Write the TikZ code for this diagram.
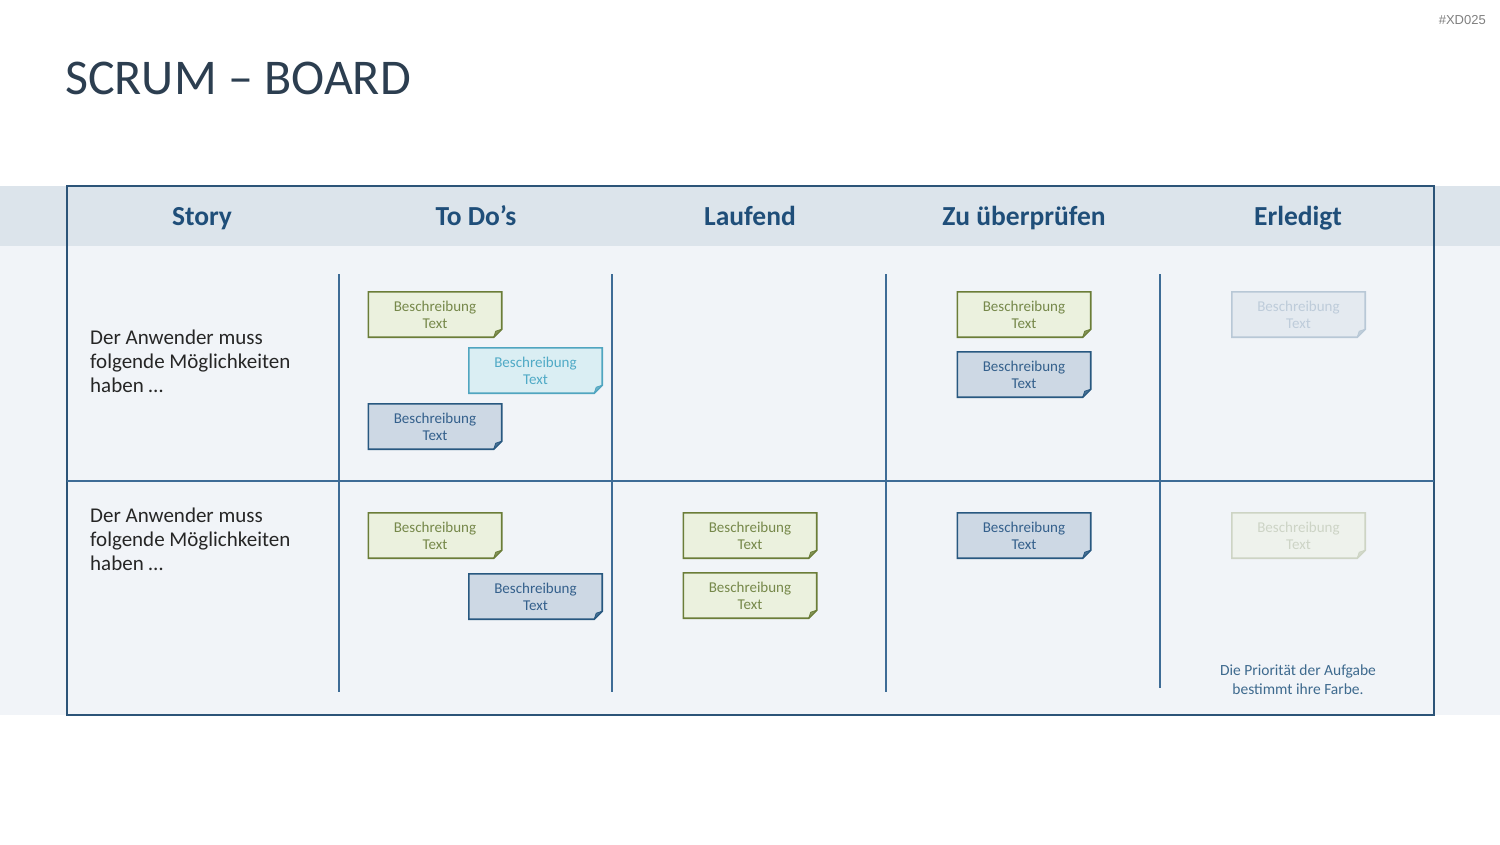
\documentclass[tikz,border=0pt]{standalone}
\usepackage{fontspec}
\setmainfont{Carlito}
\newfontfamily\hashfont{Liberation Sans}
\pgfdeclarelayer{bg}
\pgfdeclarelayer{cardbg}
\pgfsetlayers{bg,cardbg,main}
\definecolor{hdrband}{RGB}{220,228,235}
\definecolor{bodyband}{RGB}{241,244,248}
\definecolor{boardline}{RGB}{44,84,120}
\definecolor{vline}{RGB}{62,108,150}
\definecolor{titlecol}{RGB}{44,62,80}
\definecolor{headcol}{RGB}{31,78,121}
\definecolor{storycol}{RGB}{38,38,38}
\definecolor{notecol}{RGB}{62,106,142}
\definecolor{hashcol}{RGB}{128,128,128}
% green
\definecolor{gfill}{RGB}{235,241,222}
\definecolor{gline}{RGB}{107,125,56}
\definecolor{gtxt}{RGB}{118,136,74}
% cyan
\definecolor{cfill}{RGB}{218,238,243}
\definecolor{cline}{RGB}{80,165,192}
\definecolor{ctxt}{RGB}{80,170,198}
% blue
\definecolor{bfill}{RGB}{205,216,228}
\definecolor{bline}{RGB}{40,88,128}
\definecolor{btxt}{RGB}{52,96,140}
% faded blue
\definecolor{fbfill}{RGB}{228,234,240}
\definecolor{fbline}{RGB}{184,200,214}
\definecolor{fbtxt}{RGB}{190,204,218}
% faded green
\definecolor{fgfill}{RGB}{238,242,236}
\definecolor{fgline}{RGB}{205,212,196}
\definecolor{fgtxt}{RGB}{205,212,198}
\tikzset{
  cardtext/.style={minimum width=133pt,minimum height=45pt,inner sep=0pt,align=center,
    font=\fontsize{15}{17}\selectfont},
  headtext/.style={text=headcol,anchor=base,inner sep=0pt,font=\fontsize{27.5}{30}\selectfont\bfseries},
  storytext/.style={text=storycol,align=left,anchor=west,inner sep=0pt,
    font=\fontsize{21}{24}\selectfont},
  divline/.style={draw=vline,line width=2pt},
}
\newcommand\kcard[4]{%
  \node[cardtext,text=#4txt] (#1) at (#2,#3) {Beschreibung\\Text};
  \begin{pgfonlayer}{cardbg}
  \filldraw[fill=#4fill,draw=#4line,line width=1.6pt,line join=miter]
    (#1.north west) -- (#1.north east) -- ([yshift=8pt]#1.south east)
    -- ([xshift=-8pt]#1.south east) -- (#1.south west) -- cycle;
  \filldraw[fill=#4line!80!#4fill,draw=#4line,line width=0.8pt,line join=round]
    ([yshift=8pt]#1.south east) -- ([xshift=-8pt]#1.south east)
    -- ([shift={(-6pt,6pt)}]#1.south east) -- cycle;
  \end{pgfonlayer}}
\begin{document}
\begin{tikzpicture}[x=1pt,y=-1pt]
\useasboundingbox (0,0) rectangle (1500,844);
\begin{pgfonlayer}{bg}
\fill[white] (0,0) rectangle (1500,844);
\fill[hdrband] (0,186) rectangle (1500,246);
\fill[bodyband] (0,246) rectangle (1500,715);
\draw[boardline,line width=2pt] (67,186) rectangle (1434,715);
\end{pgfonlayer}
% title and tag
\node[anchor=west,inner sep=0pt,text=titlecol,font=\fontsize{50}{56}\selectfont] (title) at (65,78) {SCRUM – BOARD};
\node[anchor=east,inner sep=0pt,text=hashcol,font=\hashfont\fontsize{13}{15}\selectfont] (tag) at (1486,20) {\#XD025};
% headers
\node[headtext] (hstory) at (202,225) {Story};
\node[headtext] (htodo) at (476,225) {To Do’s};
\node[headtext] (hlauf) at (750,225) {Laufend};
\node[headtext] (hzu) at (1024,225) {Zu überprüfen};
\node[headtext] (herl) at (1298,225) {Erledigt};
% grid lines
\coordinate (v1t) at (339,274); \coordinate (v1b) at (339,692);
\coordinate (v2t) at (612,274); \coordinate (v2b) at (612,692);
\coordinate (v3t) at (886,274); \coordinate (v3b) at (886,692);
\coordinate (v4t) at (1160,274); \coordinate (v4b) at (1160,688);
\coordinate (hl) at (67,481); \coordinate (hr) at (1434,481);
\draw[divline] (v1t) -- (v1b);
\draw[divline] (v2t) -- (v2b);
\draw[divline] (v3t) -- (v3b);
\draw[divline] (v4t) -- (v4b);
\draw[divline] (hl) -- (hr);
% stories
\node[storytext] (story1) at (90,361) {Der Anwender muss\\folgende Möglichkeiten\\haben …};
\node[storytext] (story2) at (90,539) {Der Anwender muss\\folgende Möglichkeiten\\haben …};
% cards row 1
\kcard{c1}{435}{314.5}{g}
\kcard{c2}{535.5}{370.5}{c}
\kcard{c3}{435}{426.5}{b}
\kcard{c4}{1024}{314.5}{g}
\kcard{c5}{1024}{374.5}{b}
\kcard{c6}{1298.5}{314.5}{fb}
% cards row 2
\kcard{d1}{435}{535.5}{g}
\kcard{d2}{535.5}{596.5}{b}
\kcard{d3}{750}{535.5}{g}
\kcard{d4}{750}{595.5}{g}
\kcard{d5}{1024}{535.5}{b}
\kcard{d6}{1298.5}{535.5}{fg}
% note
\node[align=center,text=notecol,inner sep=0pt,font=\fontsize{15.5}{19}\selectfont] (note) at (1298,680) {Die Priorität der Aufgabe\\bestimmt ihre Farbe.};
\end{tikzpicture}
\end{document}
